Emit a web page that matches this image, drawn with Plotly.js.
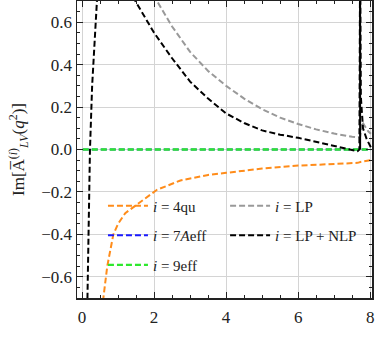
<!DOCTYPE html>
<html>
<head>
<meta charset="utf-8">
<script src="https://cdn.plot.ly/plotly-3.0.1.min.js"></script>
<style>
  html, body { margin: 0; padding: 0; background: #fff; }
  #chart { width: 375px; height: 361px; }
</style>
</head>
<body>
<div id="chart"></div>
<script>
// values
const x4qu = [0.52, 0.6, 0.7, 0.87, 1.0, 1.2, 1.52, 2.08, 2.73, 3.5, 4.0, 5.0, 6.0, 7.0, 7.65, 7.75, 8.02];
const y4qu = [-0.8, -0.7, -0.55, -0.40, -0.35, -0.30, -0.26, -0.19, -0.146, -0.12, -0.11, -0.09, -0.076, -0.068, -0.063, -0.058, -0.05];

const xFlat = [0.02, 8.02];
const y7Aeff = [0, 0];
const y9eff = [0, 0];

const xLP = [1.9, 2.08, 2.5, 3.0, 3.5, 4.0, 4.5, 5.0, 5.5, 6.0, 6.5, 7.0, 7.5, 7.65, 7.72, 7.78, 7.85, 7.95, 8.02];
const yLP = [0.77, 0.7, 0.58, 0.46, 0.37, 0.30, 0.24, 0.19, 0.15, 0.12, 0.095, 0.075, 0.06, 0.057, 0.06, 0.13, 0.11, 0.085, 0.074];

const xNLP = [0.12, 0.15, 0.18, 0.22, 0.28, 0.35, 0.42, 0.6, 0.9, 1.2, 1.48, 2.0, 2.5, 3.0, 3.5, 4.0, 4.5, 5.0, 5.5, 6.0, 6.5, 7.0, 7.5, 7.65, 7.70, 7.72, 7.74, 7.8, 7.9, 8.02];
const yNLP = [-1.0, -0.7, -0.35, 0.0, 0.3, 0.55, 0.72, 1.0, 1.1, 0.9, 0.7, 0.55, 0.43, 0.32, 0.24, 0.17, 0.125, 0.09, 0.07, 0.055, 0.035, 0.015, -0.003, -0.008, 0.0, 0.9, 0.25, 0.10, 0.05, 0.01];

const xSpike = [7.72, 7.72];
const ySpike = [0.0, 0.8];

const serif = "'Liberation Serif', 'DejaVu Serif', serif";
const dashW = 2;
const dashPat = '6px,3px';

const traces = [
  { x: x4qu, y: y4qu, name: '<i>i</i> = 4qu', legend: 'legend', legendgroup: 'a',
    line: { color: '#ff8c1a', dash: dashPat, width: dashW } },
  { x: xFlat, y: y7Aeff, name: '<i>i</i> = 7<i>A</i>eff', legend: 'legend', legendgroup: 'b',
    line: { color: '#1a1aff', dash: dashPat, width: dashW } },
  { x: xFlat, y: y9eff, name: '<i>i</i> = 9eff', legend: 'legend', legendgroup: 'c',
    line: { color: '#2ee82e', dash: dashPat, width: 2.4 } },
  { x: xLP, y: yLP, name: '<i>i</i> = LP', legend: 'legend2', legendgroup: 'd',
    line: { color: '#999999', dash: dashPat, width: dashW } },
  { x: xNLP, y: yNLP, name: '<i>i</i> = LP + NLP', legend: 'legend2', legendgroup: 'e',
    line: { color: '#000000', dash: dashPat, width: dashW } },
  { x: xSpike, y: ySpike, showlegend: false,
    line: { color: '#000000', width: 2 } }
].map(t => Object.assign({ type: 'scatter', mode: 'lines' }, t));

const legendBase = {
  bgcolor: 'rgba(0,0,0,0)',
  font: { family: serif, size: 15, color: '#222' },
  xanchor: 'left', yanchor: 'top',
  traceorder: 'grouped',
  tracegroupgap: 7,
  itemwidth: 40
};

const layout = {
  width: 375,
  height: 361,
  margin: { l: 77, r: 3, t: 1, b: 63 },
  paper_bgcolor: '#ffffff',
  plot_bgcolor: '#ffffff',
  font: { family: serif, size: 15, color: '#222' },
  xaxis: {
    range: [-0.14, 8.05],
    tickvals: [0, 2, 4, 6, 8],
    ticks: 'inside', ticklen: 6, tickwidth: 1, tickcolor: '#222',
    minor: { dtick: 0.5, ticks: 'inside', ticklen: 3, tickcolor: '#222', showgrid: false },
    showline: true, linecolor: '#222', linewidth: 1.5, mirror: 'allticks',
    showgrid: true, gridcolor: '#d4d4d4', gridwidth: 1,
    zeroline: false,
    ticklabelstandoff: 3,
    tickfont: { family: serif, size: 17, color: '#222' }
  },
  yaxis: {
    range: [-0.7, 0.7],
    tickvals: [-0.6, -0.4, -0.2, 0, 0.2, 0.4, 0.6],
    tickformat: '.1f',
    ticks: 'inside', ticklen: 6, tickwidth: 1, tickcolor: '#222',
    minor: { dtick: 0.05, ticks: 'inside', ticklen: 3, tickcolor: '#222', showgrid: false },
    showline: true, linecolor: '#222', linewidth: 1.5, mirror: 'allticks',
    showgrid: true, gridcolor: '#d4d4d4', gridwidth: 1,
    zeroline: false,
    tickfont: { family: serif, size: 17, color: '#222' },
    title: {
      text: 'Im[A\u0305<sup>(<i>i</i>)</sup><sub><i>LV</i></sub>(<i>q</i><sup>2</sup>)]',
      font: { family: serif, size: 17, color: '#222' },
      standoff: 12
    }
  },
  legend: Object.assign({ x: 0.088, y: 0.365 }, legendBase),
  legend2: Object.assign({ x: 0.502, y: 0.365 }, legendBase)
};

Plotly.newPlot('chart', traces, layout, { displayModeBar: false, staticPlot: true });
</script>
</body>
</html>
